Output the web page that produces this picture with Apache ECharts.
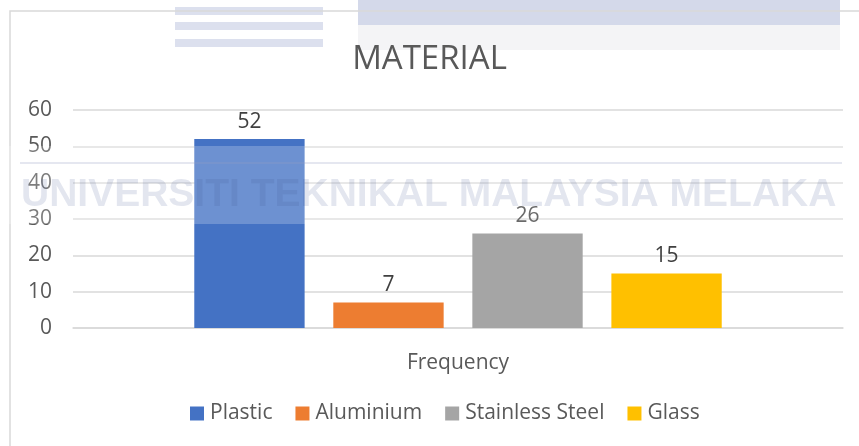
<!DOCTYPE html>
<html>
<head>
<meta charset="utf-8">
<script src="https://cdn.jsdelivr.net/npm/echarts@6/dist/echarts.min.js"></script>
<style>
  html, body { margin: 0; padding: 0; background: #ffffff; }
  #chart { width: 859px; height: 446px; }
</style>
</head>
<body>
<div id="chart"></div>
<script>
// Material survey: one "Frequency" category, one bar per material
const chartTitle = 'MATERIAL';
const categories = ['Frequency'];
const materials = ['Plastic', 'Aluminium', 'Stainless Steel', 'Glass'];
const plasticValues = [52];
const aluminiumValues = [7];
const stainlessValues = [26];
const glassValues = [15];
const yTicks = { min: 0, max: 60, step: 10 };
const watermarkText = 'UNIVERSITI TEKNIKAL MALAYSIA MELAKA';

const seriesValues = [plasticValues, aluminiumValues, stainlessValues, glassValues];
const palette = ['#4472C4', '#ED7D31', '#A5A5A5', '#FFC000'];
const FONT = '"Open Sans", "Noto Sans", sans-serif';

const chart = echarts.init(document.getElementById('chart'), null, { renderer: 'canvas' });

const series = materials.map((name, i) => ({
  name: name,
  type: 'bar',
  data: seriesValues[i],
  itemStyle: { color: palette[i] },
  barGap: '26%',
  barCategoryGap: '31.5%',
  label: {
    show: true,
    position: 'top',
    distance: 7,
    fontFamily: FONT,
    fontSize: 21,
    color: '#404040'
  }
}));

chart.setOption({
  backgroundColor: '#ffffff',
  animation: false,
  color: palette,
  title: {
    text: chartTitle,
    left: 'center',
    top: 38,
    z: 10,
    textStyle: { fontFamily: FONT, fontSize: 33, fontWeight: 'normal', color: '#595959' }
  },
  legend: {
    data: materials,
    bottom: 17,
    left: 185,
    icon: 'rect',
    itemWidth: 14,
    itemHeight: 14,
    itemGap: 23,
    textStyle: { fontFamily: FONT, fontSize: 21, color: '#595959', padding: [0, 0, 0, 1] }
  },
  grid: { left: 73, right: 16, top: 110, bottom: 118, containLabel: false },
  xAxis: {
    type: 'category',
    data: categories,
    axisLine: { show: true, lineStyle: { color: '#D9D9D9', width: 1.5 } },
    axisTick: { show: false },
    axisLabel: { fontFamily: FONT, fontSize: 21, color: '#595959', margin: 25 }
  },
  yAxis: {
    type: 'value',
    min: yTicks.min,
    max: yTicks.max,
    interval: yTicks.step,
    axisLine: { show: false },
    axisTick: { show: false },
    splitLine: { lineStyle: { color: '#D9D9D9', width: 1.5 } },
    axisLabel: { fontFamily: FONT, fontSize: 21, color: '#595959', margin: 21 }
  },
  series: series,
  graphic: [
    // pale university crest pieces along the top edge
    {
      type: 'rect', z: 1, silent: true,
      shape: { x: 358, y: 0, width: 482, height: 25 },
      style: { fill: 'rgb(212,217,234)' }
    },
    {
      type: 'rect', z: 1, silent: true,
      shape: { x: 358, y: 25, width: 482, height: 25 },
      style: { fill: 'rgb(244,244,246)' }
    },
    {
      type: 'rect', z: 1, silent: true,
      shape: { x: 175, y: 7, width: 148, height: 8 },
      style: { fill: 'rgb(220,224,238)' }
    },
    {
      type: 'rect', z: 1, silent: true,
      shape: { x: 175, y: 22, width: 148, height: 8 },
      style: { fill: 'rgb(220,224,238)' }
    },
    {
      type: 'rect', z: 1, silent: true,
      shape: { x: 175, y: 39, width: 148, height: 8 },
      style: { fill: 'rgb(220,224,238)' }
    },
    // chart area frame
    {
      type: 'rect', z: 2, silent: true,
      shape: { x: 10, y: 11, width: 880, height: 480 },
      style: { fill: 'none', stroke: '#D9D9D9', lineWidth: 1.5 }
    },
    // faint university watermark band laid over the plot
    {
      type: 'rect', z: 100, silent: true,
      shape: { x: 0, y: 146, width: 859, height: 78 },
      style: { fill: 'rgba(255,255,255,0.22)' }
    },
    {
      type: 'rect', z: 101, silent: true,
      shape: { x: 20, y: 162, width: 822, height: 2 },
      style: { fill: 'rgba(150,160,195,0.25)' }
    },
    {
      type: 'text', z: 101, silent: true,
      left: 21, top: 176,
      style: {
        text: watermarkText,
        fontFamily: '"Liberation Sans", Arial, sans-serif',
        fontWeight: 'bold',
        fontSize: 39,
        fill: 'rgba(70,85,150,0.15)'
      }
    }
  ]
});
</script>
</body>
</html>
